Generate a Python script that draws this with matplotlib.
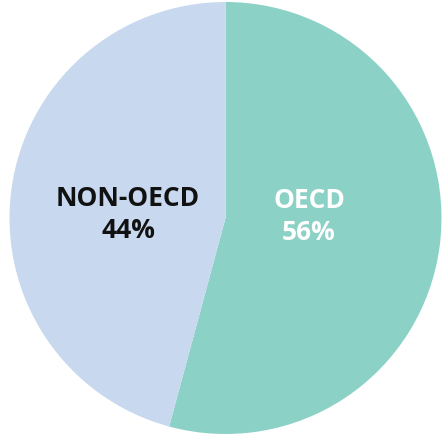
import matplotlib
matplotlib.use("Agg")
import matplotlib.pyplot as plt

categories = ["OECD", "NON-OECD"]
shares = [54.2, 45.8]          # slice sizes as drawn
share_labels = ["56%", "44%"]  # printed labels
colors = ["#8bd1c6", "#c8d9ef"]
text_colors = ["white", "#111111"]

fig = plt.figure(figsize=(4.45, 4.37), dpi=100)
ax = fig.add_axes([0, 0, 1, 1])

cx, cy, r = 225.5, 219, 216
ax.pie(shares, colors=colors, startangle=90, counterclock=False,
       center=(cx, cy), radius=r, frame=True,
       wedgeprops=dict(linewidth=0))
ax.set_xlim(0, 445)
ax.set_ylim(0, 437)
ax.set_aspect("equal")
ax.axis("off")

label_pos = [(309, 237), (128, 239)]
for cat, lab, tc, (x, y) in zip(categories, share_labels, text_colors, label_pos):
    ax.text(x, y, cat, ha="center", va="center", fontsize=19,
            fontweight="bold", color=tc, family="Open Sans")
    ax.text(x, y - 32, lab, ha="center", va="center", fontsize=19,
            fontweight="bold", color=tc, family="Open Sans")

fig.savefig("out.png", dpi=100)
